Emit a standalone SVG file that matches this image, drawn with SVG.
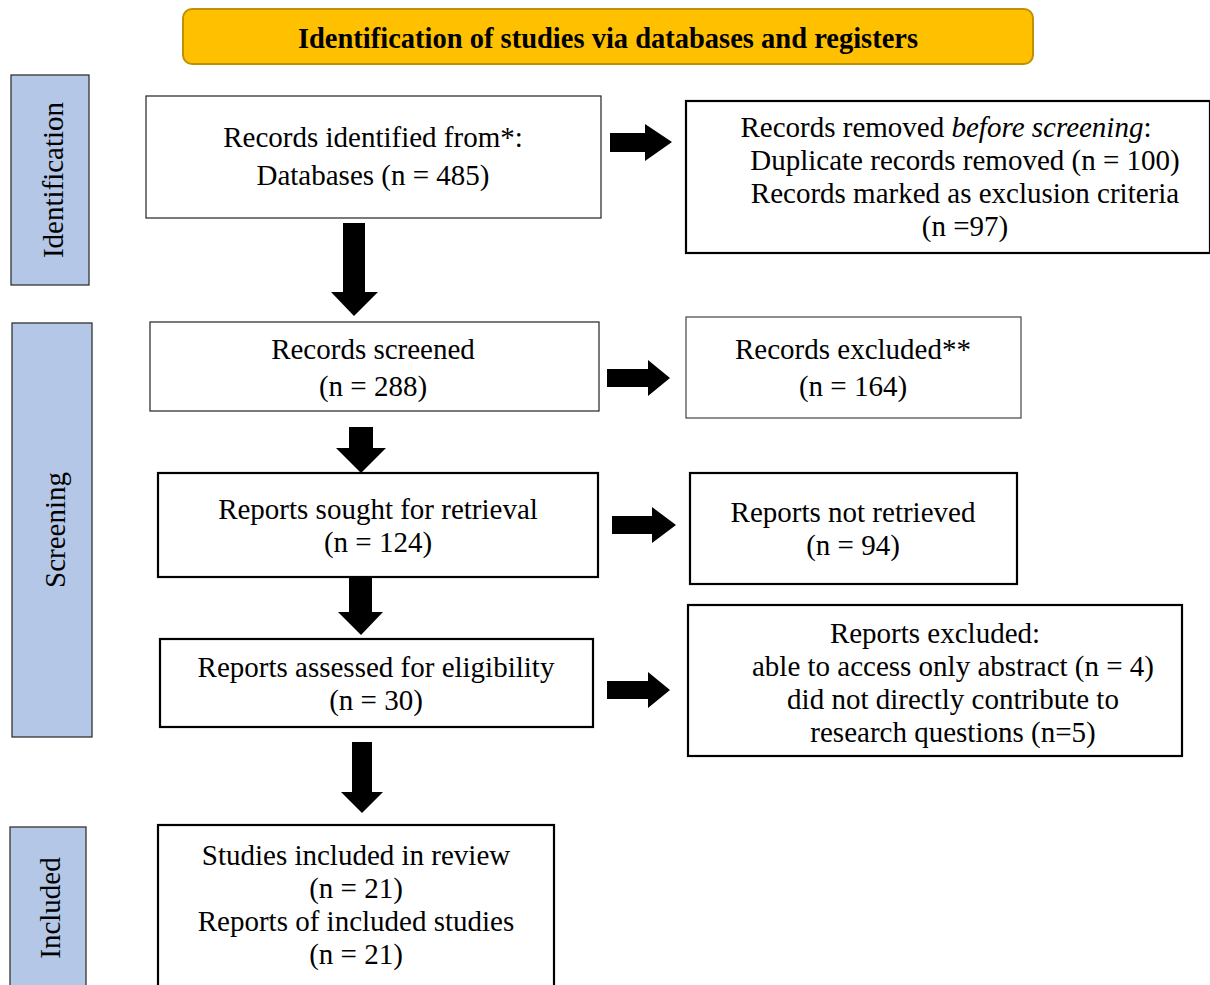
<svg xmlns="http://www.w3.org/2000/svg" width="1210" height="985" viewBox="0 0 1210 985">
<style>
text{font-family:"Liberation Serif","DejaVu Serif",serif;fill:#000;}
.t{font-size:29px;text-anchor:middle;}
.title{font-size:28.5px;font-weight:bold;text-anchor:middle;}
.side rect{fill:#B4C7E7;stroke:#333;stroke-width:1.3;}
.side text{font-size:29px;text-anchor:middle;}
.thin{fill:#fff;stroke:#222;stroke-width:1.2;}
.thick{fill:#fff;stroke:#000;stroke-width:2.2;}
.arr{fill:#000;}
</style>
<rect width="1210" height="985" fill="#fff"/>
<g id="title">
<rect x="183" y="9" width="850" height="55" rx="9" fill="#FFC000" stroke="#BF9000" stroke-width="2"/>
<text class="title" x="608" y="48">Identification of studies via databases and registers</text>
</g>
<g id="phase-identification" class="side">
<rect x="11" y="75" width="78" height="210"/>
<text transform="translate(63,180) rotate(-90)">Identification</text>
</g>
<g id="phase-screening" class="side">
<rect x="12" y="323" width="80" height="414"/>
<text transform="translate(65,530) rotate(-90)">Screening</text>
</g>
<g id="phase-included" class="side">
<rect x="10" y="827" width="76" height="170"/>
<text transform="translate(60,908) rotate(-90)">Included</text>
</g>
<g id="identified">
<rect class="thin" x="146" y="96" width="455" height="122"/>
<text class="t" x="373" y="147">Records identified from*:</text>
<text class="t" x="373" y="185">Databases (n = 485)</text>
</g>
<g id="removed">
<rect class="thick" x="686" y="101" width="524" height="152"/>
<text class="t" x="946" y="137">Records removed <tspan font-style="italic">before screening</tspan>:</text>
<text class="t" x="965" y="170">Duplicate records removed (n = 100)</text>
<text class="t" x="965" y="203">Records marked as exclusion criteria</text>
<text class="t" x="965" y="236">(n =97)</text>
</g>
<g id="screened">
<rect class="thin" x="150" y="322" width="449" height="89"/>
<text class="t" x="373" y="359">Records screened</text>
<text class="t" x="373" y="396">(n = 288)</text>
</g>
<g id="excluded">
<rect class="thin" x="686" y="317" width="335" height="101" style="stroke:#444"/>
<text class="t" x="853" y="359">Records excluded**</text>
<text class="t" x="853" y="396">(n = 164)</text>
</g>
<g id="sought">
<rect class="thick" x="158" y="473" width="440" height="104"/>
<text class="t" x="378" y="519">Reports sought for retrieval</text>
<text class="t" x="378" y="552">(n = 124)</text>
</g>
<g id="notretrieved">
<rect class="thick" x="690" y="473" width="327" height="111"/>
<text class="t" x="853" y="522">Reports not retrieved</text>
<text class="t" x="853" y="555">(n = 94)</text>
</g>
<g id="assessed">
<rect class="thick" x="160" y="639" width="433" height="88"/>
<text class="t" x="376" y="677">Reports assessed for eligibility</text>
<text class="t" x="376" y="710">(n = 30)</text>
</g>
<g id="reportsexcluded">
<rect class="thick" x="688" y="605" width="494" height="151"/>
<text class="t" x="935" y="643">Reports excluded:</text>
<text class="t" x="953" y="676">able to access only abstract (n = 4)</text>
<text class="t" x="953" y="709">did not directly contribute to</text>
<text class="t" x="953" y="742">research questions (n=5)</text>
</g>
<g id="included">
<rect class="thick" x="158" y="825" width="396" height="170"/>
<text class="t" x="356" y="865">Studies included in review</text>
<text class="t" x="356" y="898">(n = 21)</text>
<text class="t" x="356" y="931">Reports of included studies</text>
<text class="t" x="356" y="964">(n = 21)</text>
</g>
<g id="connectors">
<polygon class="arr" points="343,223 365,223 365,292 378,292 354,316 331,292 343,292"/>
<polygon class="arr" points="349,427 373,427 373,448 386,448 361,473 336,448 349,448"/>
<polygon class="arr" points="349,577 372,577 372,612 383,612 361,635 338,612 349,612"/>
<polygon class="arr" points="352,742 372,742 372,792 383,792 362,813 341,792 352,792"/>
<polygon class="arr" points="610,133 645,133 645,124 672,142 645,161 645,152 610,152"/>
<polygon class="arr" points="607,369 648,369 648,360 670,378 648,396 648,387 607,387"/>
<polygon class="arr" points="612,516 652,516 652,507 676,525 652,543 652,534 612,534"/>
<polygon class="arr" points="607,681 648,681 648,672 670,690 648,708 648,699 607,699"/>
</g>
</svg>
